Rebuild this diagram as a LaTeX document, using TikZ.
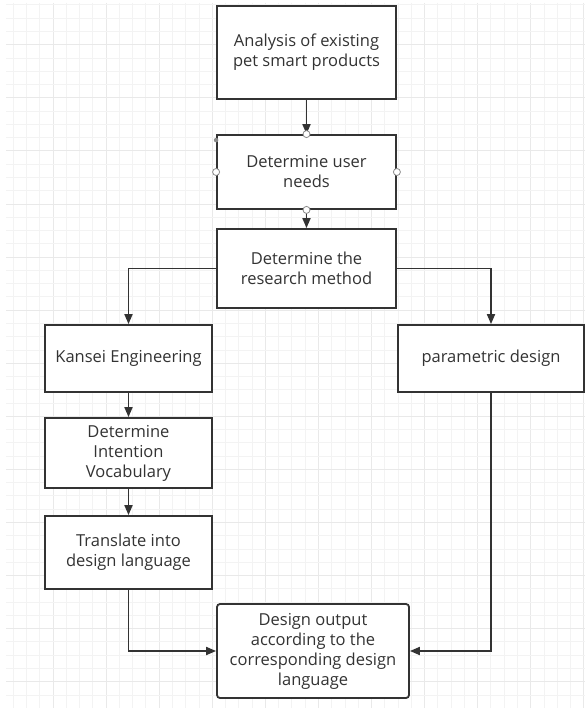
\documentclass[tikz,border=0pt]{standalone}
\usepackage{fontspec}
\setmainfont{Open Sans}
\usetikzlibrary{arrows.meta}
\definecolor{linec}{HTML}{333333}
\definecolor{textc}{HTML}{333333}
\definecolor{minorg}{HTML}{F3F3F3}
\definecolor{majorg}{HTML}{E9E9E9}
\definecolor{handleg}{HTML}{8A8A8A}
\tikzset{
  box/.style={draw=linec, line width=1.8pt, fill=white, align=center, inner sep=0pt,
    text=textc, font=\fontsize{16.5}{20}\selectfont},
  conn/.style={draw=linec, line width=1.8pt, -{Triangle[length=10pt,width=8pt]}},
  minorgrid/.style={draw=minorg, line width=1pt},
  majorgrid/.style={draw=majorg, line width=1pt},
  handle/.style={circle, draw=handleg, fill=white, line width=0.8pt, inner sep=0pt, minimum size=7pt},
  handledot/.style={circle, fill=handleg, inner sep=0pt, minimum size=4.5pt}
}
\begin{document}
\begin{tikzpicture}[x=1pt,y=-1pt]
\useasboundingbox (0,0) rectangle (585,708);
\fill[white] (0,0) rectangle (585,708);
% grid
\foreach \i in {1,...,44}{
  \pgfmathsetmacro\xx{13.27*\i}
  \pgfmathtruncatemacro\m{mod(\i,4)}
  \ifnum\m=0 \draw[majorgrid] (\xx,3) -- (\xx,708); \else \draw[minorgrid] (\xx,3) -- (\xx,708); \fi
}
\foreach \i in {0,...,53}{
  \pgfmathsetmacro\yy{5+13.27*\i}
  \pgfmathtruncatemacro\m{mod(\i+1,4)}
  \ifnum\m=0 \draw[majorgrid] (6,\yy) -- (585,\yy); \else \draw[minorgrid] (6,\yy) -- (585,\yy); \fi
}
% boxes
\node[box, minimum width=179pt, minimum height=93pt] (b1) at (306.5,52.5) {Analysis of existing\\pet smart products};
\node[box, minimum width=179pt, minimum height=74pt] (b2) at (306.5,172) {Determine user\\needs};
\node[box, minimum width=179pt, minimum height=79pt] (b3) at (306.5,268.5) {Determine the\\research method};
\node[box, minimum width=167pt, minimum height=67pt] (k) at (128.5,358.5) {Kansei Engineering};
\node[box, minimum width=186pt, minimum height=67pt] (p) at (491,358.5) {parametric design};
\node[box, minimum width=167pt, minimum height=70pt] (v) at (128.5,453) {Determine\\Intention\\Vocabulary};
\node[box, minimum width=167pt, minimum height=73pt] (t) at (128.5,552.5) {Translate into\\design language};
\node[box, rounded corners=3pt, minimum width=192pt, minimum height=94pt] (o) at (313,651) {Design output\\according to the\\corresponding design\\language};
% connectors
\draw[conn] (b1) -- (b2);
\draw[conn] (b2) -- (b3);
\draw[conn] (b3.west) -| (k.north);
\draw[conn] (b3.east) -| (p.north);
\draw[conn] (k) -- (v);
\draw[conn] (v) -- (t);
\draw[conn] (t.south) |- (o.west);
\draw[conn] (p.south) |- (o.east);
% selection handles
\node[handle] (h1) at (b2.north) {};
\node[handle] (h2) at (b2.south) {};
\node[handle] (h3) at (b2.west) {};
\node[handle] (h4) at (b2.east) {};
\node[handledot] (h5) at ([yshift=-6pt]b2.north west) {};
\end{tikzpicture}
\end{document}
